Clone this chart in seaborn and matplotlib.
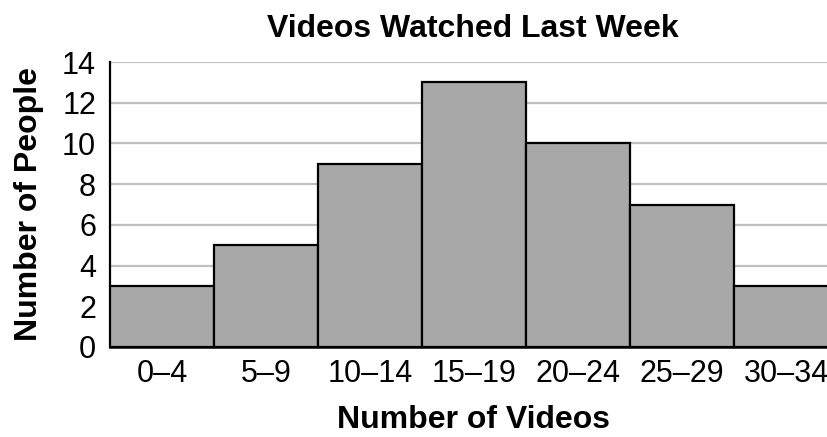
import matplotlib
matplotlib.use("Agg")
import matplotlib.pyplot as plt
import seaborn as sns
import pandas as pd

# Histogram counts per bin of videos watched
bins = ["0–4", "5–9", "10–14", "15–19", "20–24", "25–29", "30–34"]
people = [3, 5, 9, 13, 10, 7, 3]
y_ticks = [0, 2, 4, 6, 8, 10, 12, 14]

df = pd.DataFrame({"bin": bins, "people": people})

sns.set_theme(style="white")
plt.rcParams["font.family"] = ["Liberation Sans", "DejaVu Sans"]

W, H = 827, 437
fig = plt.figure(figsize=(W / 100, H / 100), dpi=100)
ax = fig.add_axes([110 / W, 1 - 347 / H, 1 - 110 / W, (347 - 62) / H])

sns.barplot(data=df, x="bin", y="people", order=bins, color="#a8a8a8",
            edgecolor="black", linewidth=1.6, width=1.0, saturation=1, ax=ax, zorder=3)

ax.set_ylim(0, 14)
ax.set_xlim(-0.5, 6.394)
ax.set_yticks(y_ticks)
ax.set_yticklabels([str(v) for v in y_ticks])
ax.yaxis.grid(True, color="#c0c0c0", linewidth=1.6, zorder=0)
ax.set_axisbelow(True)
ax.tick_params(axis="both", length=0, labelsize=22, labelcolor="black")
ax.tick_params(axis="x", pad=8.5)
ax.tick_params(axis="y", pad=10)

for side in ["top", "right"]:
    ax.spines[side].set_visible(False)
ax.spines["left"].set_color("black")
ax.spines["left"].set_linewidth(1.6)
ax.spines["bottom"].set_color("black")
ax.spines["bottom"].set_linewidth(1.8)

ax.set_xlabel("Number of Videos", fontsize=23, fontweight="bold", color="black")
ax.xaxis.label.set_va("baseline")
ax.xaxis.set_label_coords((473 - 110) / 717, (347 - 428) / 285)

ax.set_ylabel("Number of People", fontsize=23, fontweight="bold", color="black")
ax.yaxis.label.set_va("center")
ax.yaxis.set_label_coords((29 - 110) / 717, (347 - 204) / 285)

fig.text(473 / W, 1 - 37 / H, "Videos Watched Last Week", ha="center", va="baseline",
         fontsize=23, fontweight="bold", color="black")

fig.savefig("out.png", dpi=100)
